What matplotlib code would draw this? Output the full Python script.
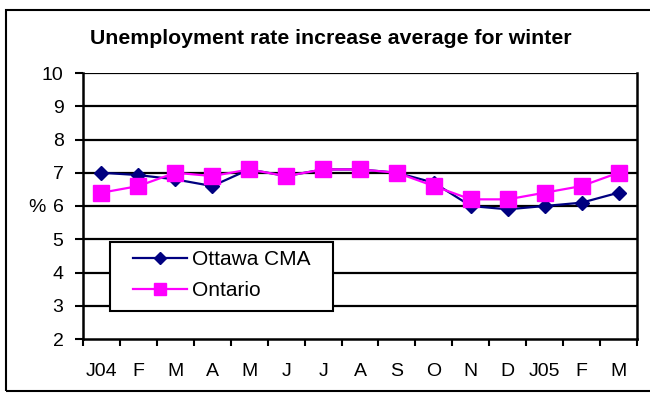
import matplotlib
matplotlib.use("Agg")
import matplotlib.pyplot as plt
from matplotlib.patches import Rectangle
import numpy as np

plt.rcParams['font.family'] = ['Liberation Sans', 'DejaVu Sans']

months = ["J04", "F", "M", "A", "M", "J", "J", "A", "S", "O", "N", "D", "J05", "F", "M"]
ottawa = [7.0, 6.93, 6.8, 6.6, 7.1, 6.9, 7.1, 7.1, 7.0, 6.7, 6.0, 5.9, 6.0, 6.1, 6.4]
ontario = [6.4, 6.6, 7.0, 6.9, 7.1, 6.9, 7.1, 7.1, 7.0, 6.6, 6.2, 6.2, 6.4, 6.6, 7.0]
yticks = [2, 3, 4, 5, 6, 7, 8, 9, 10]

W, H = 650, 393
fig = plt.figure(figsize=(6.5, 3.93), dpi=100)
fig.patches.append(Rectangle((6/W, 2/H), 1, 381/H, transform=fig.transFigure,
                             fill=False, edgecolor='black', linewidth=1.5))
ax = fig.add_axes([83/W, 1-339/H, 554/W, 266/H])
x = np.arange(len(months))
for y in yticks[1:]:
    ax.axhline(y, color='black', linewidth=1.6, zorder=1)
ax.plot(x, ottawa, color='#000080', marker='D', markersize=7, linewidth=1.6,
        label='Ottawa CMA', zorder=3)
ax.plot(x, ontario, color='#FF00FF', marker='s', markersize=11, linewidth=1.6,
        label='Ontario', zorder=4)
ax.set_xlim(-0.5, len(months) - 0.5)
ax.set_ylim(2, 10)
ax.set_yticks(yticks)
ax.set_yticklabels([str(v) for v in yticks], fontsize=14)
ax.set_xticks(x)
ax.set_xticklabels(months, fontsize=14)
ax.set_xticks(np.arange(-0.5, len(months), 1), minor=True)
ax.tick_params(axis='x', which='major', length=0, pad=17)
ax.tick_params(axis='x', which='minor', length=5, width=1.5, direction='out')
ax.tick_params(axis='y', length=6, width=1.5, direction='out', pad=8)
for s in ['left', 'bottom', 'right']:
    ax.spines[s].set_linewidth(1.8)
ax.spines['top'].set_visible(False)
ax.set_ylabel('%', fontsize=14, rotation=0, va='center', ha='center')
ax.yaxis.set_label_coords(-(83-37)/554, (339-208)/266)
fig.text(331/W, 1-39/H, 'Unemployment rate increase average for winter', ha='center', va='center',
         fontsize=15.3, fontweight='bold')

# legend box (frame drawn separately to match padding)
ax.add_patch(Rectangle((110/W, 1-311/H), 223/W, 69/H, transform=fig.transFigure,
                       facecolor='white', edgecolor='black', linewidth=1.5, zorder=4.5,
                       clip_on=False))
leg = ax.legend(loc='upper left', bbox_to_anchor=(133/W, 1-250/H),
                bbox_transform=fig.transFigure, fontsize=15, frameon=False,
                handlelength=2.6, handletextpad=0.25, borderpad=0, labelspacing=0.6,
                borderaxespad=0, markerscale=0.85)
leg.set_zorder(6)
fig.savefig('out.png', dpi=100)
